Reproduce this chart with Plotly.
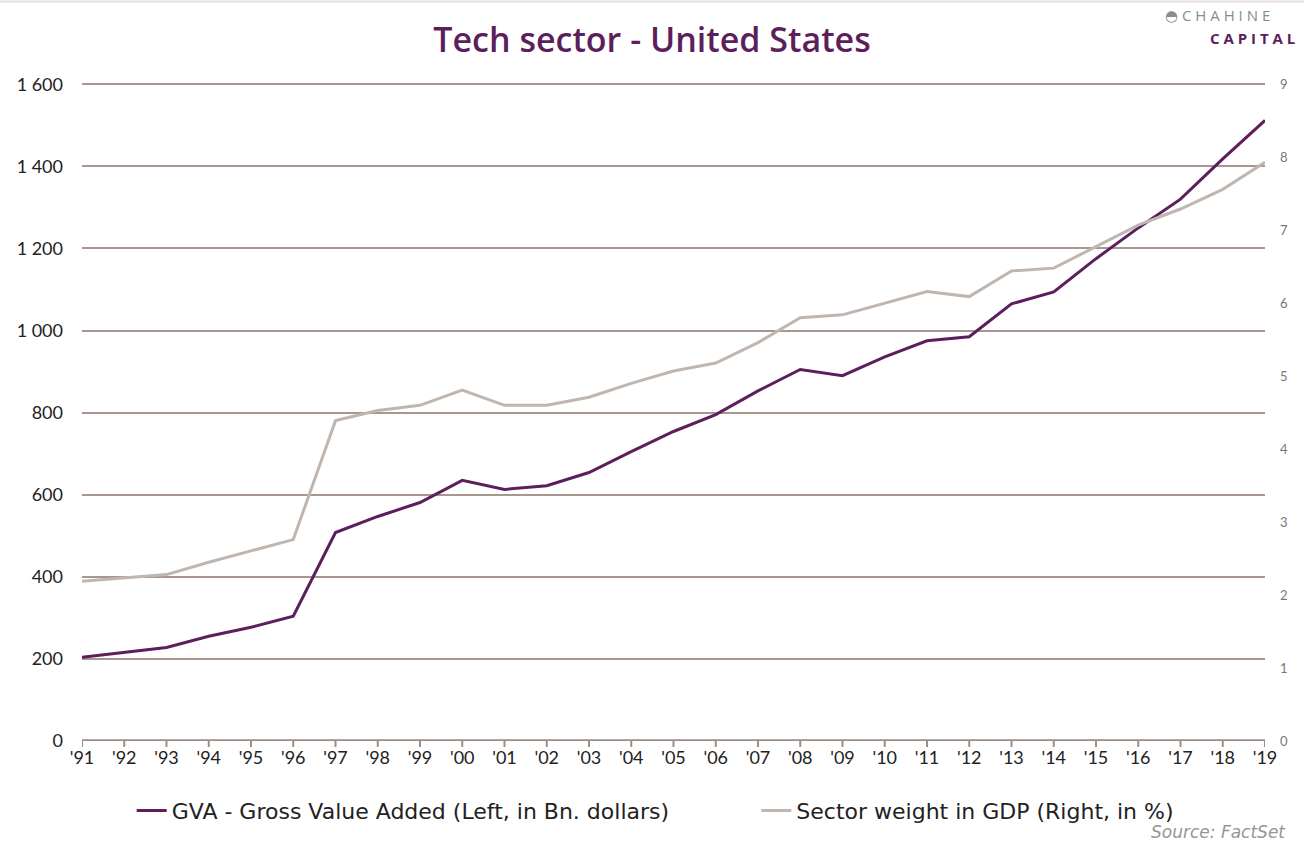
import plotly.graph_objects as go

years = list(range(1991, 2020))
year_labels = ["'" + str(y)[2:] for y in years]

gva = [204, 216, 228, 255, 277, 304, 508, 547, 581, 635, 613, 622, 654, 705, 754,
       795, 853, 905, 890, 936, 975, 985, 1065, 1094, 1175, 1250, 1320, 1418, 1512]
weight = [2.19, 2.23, 2.28, 2.45, 2.60, 2.76, 4.39, 4.53, 4.60, 4.81, 4.60, 4.60, 4.71,
          4.90, 5.07, 5.18, 5.46, 5.80, 5.84, 6.00, 6.16, 6.09, 6.44, 6.48, 6.78, 7.07,
          7.29, 7.56, 7.93]

left_ticks = [0, 200, 400, 600, 800, 1000, 1200, 1400, 1600]
left_tick_text = ["0", "200", "400", "600", "800", "1 000", "1 200", "1 400", "1 600"]
right_ticks = list(range(0, 10))

purple = "#5c1f5c"
grey = "#c0b6b0"
grid = "#a8978e"
font_family = "Open Sans, DejaVu Sans, sans-serif"
label_font = "Lato, Open Sans, sans-serif"
legend_font = "DejaVu Sans, sans-serif"

fig = go.Figure()
fig.add_trace(go.Scatter(x=years, y=gva, mode="lines", name="GVA - Gross Value Added (Left, in Bn. dollars)",
                         line=dict(color=purple, width=3), yaxis="y", legend="legend"))
fig.add_trace(go.Scatter(x=years, y=weight, mode="lines", name="Sector weight in GDP (Right, in %)",
                         line=dict(color=grey, width=3), yaxis="y2", legend="legend2"))

fig.update_layout(
    width=1304, height=845,
    paper_bgcolor="white", plot_bgcolor="white",
    margin=dict(l=82, r=39, t=83, b=104, autoexpand=False),
    font=dict(family=font_family, color="#222"),
    title=dict(text="Tech sector - United States", x=0.5, xanchor="center", y=0.953, yanchor="middle",
               font=dict(size=34, color=purple, family="Open Sans, DejaVu Sans, sans-serif", weight=600)),
    xaxis=dict(range=[1991, 2019], tickvals=years, ticktext=year_labels, showgrid=False,
               showline=False, ticks="", tickfont=dict(size=18, color="#222", family=label_font),
               zeroline=False, automargin=False, ticklabelstandoff=4),
    yaxis=dict(range=[0, 1603], tickvals=left_ticks, ticktext=left_tick_text, showgrid=True,
               gridcolor=grid, gridwidth=1.5, zeroline=False, showline=False, ticks="",
               tickfont=dict(size=18, color="#222", family=label_font), ticklabelstandoff=18,
               automargin=False),
    yaxis2=dict(range=[0, 9 * 1603 / 1600], tickvals=right_ticks, overlaying="y", side="right",
                showgrid=False, zeroline=False, showline=False, ticks="",
                tickfont=dict(size=13, color="#777", family=label_font), ticklabelstandoff=14,
                automargin=False),
    showlegend=True,
    legend=dict(orientation="h", x=0.042, xanchor="left", y=-0.074, yanchor="top",
                font=dict(size=22, color="#222", family=legend_font), itemwidth=30),
    legend2=dict(orientation="h", x=0.570, xanchor="left", y=-0.074, yanchor="top",
                 font=dict(size=22, color="#222", family=legend_font), itemwidth=30),
)

# x-axis baseline with ticks
fig.add_shape(type="line", xref="x", yref="y", x0=1991, x1=2019, y0=0, y1=0,
              line=dict(color="#9d8d85", width=3.5))
for yr in years:
    fig.add_shape(type="line", xref="x", yref="paper", x0=yr, x1=yr, y0=0, y1=-0.009,
                  line=dict(color="#9d8d85", width=2))

fig.add_annotation(text="Source: FactSet", xref="paper", yref="paper", x=1.0195, y=-0.138,
                   xanchor="right", yanchor="middle", showarrow=False,
                   font=dict(size=17, color="#9a9490", family=legend_font, style="italic"))
fig.add_annotation(text="◓ C H A H I N E", xref="paper", yref="paper", x=1.006, y=1.104,
                   xanchor="right", yanchor="middle", showarrow=False,
                   font=dict(size=15, color="#8c8c8c", family=font_family))
fig.add_annotation(text="<b>C A P I T A L</b>", xref="paper", yref="paper", x=1.027, y=1.069,
                   xanchor="right", yanchor="middle", showarrow=False,
                   font=dict(size=15, color=purple, family=font_family))
fig.add_shape(type="line", xref="paper", yref="paper", x0=-0.07, x1=1.033, y0=1.124, y1=1.124,
              line=dict(color="#e8dde6", width=2))

fig.write_html("out.html", config={"displayModeBar": False},
               post_script="document.body.style.margin='0';document.body.style.overflow='hidden';")
